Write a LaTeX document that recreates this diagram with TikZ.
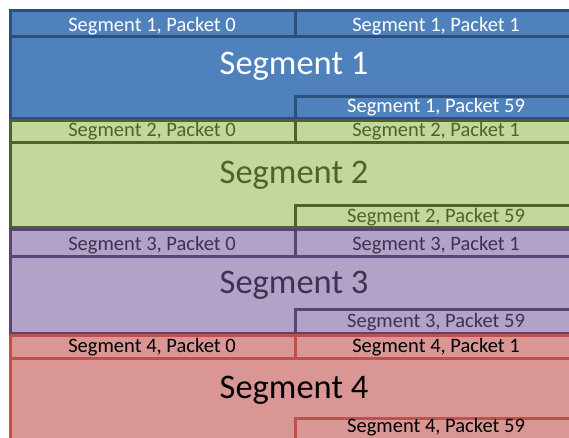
\documentclass[tikz,border=0pt]{standalone}
\usepackage{fontspec}
\setmainfont{Carlito}
\definecolor{segAfill}{RGB}{79,129,189}
\definecolor{segAdraw}{RGB}{44,80,125}
\definecolor{segAtext}{RGB}{255,255,255}
\definecolor{segBfill}{RGB}{195,214,155}
\definecolor{segBdraw}{RGB}{79,98,40}
\definecolor{segBtext}{RGB}{79,98,40}
\definecolor{segCfill}{RGB}{178,162,199}
\definecolor{segCdraw}{RGB}{88,68,120}
\definecolor{segCtext}{RGB}{64,49,82}
\definecolor{segDfill}{RGB}{217,150,148}
\definecolor{segDdraw}{RGB}{192,80,77}
\definecolor{segDtext}{RGB}{0,0,0}
\tikzset{
  pktlabel/.style={font=\fontsize{20.5}{22}\selectfont,anchor=base},
  seglabel/.style={font=\fontsize{34.5}{38}\selectfont,anchor=base},
}
\begin{document}
\begin{tikzpicture}[x=1pt,y=-1pt,line width=3pt]
    \useasboundingbox (0,0) rectangle (569,438);
    \clip (0,0) rectangle (569,438);
    \foreach \i/\top/\hdr/\pk/\bot/\c/\bh/\bs/\bp in {1/11/37/97/119/A/31.5/75/113,2/121/143/205/227/B/137/183/222,3/229/256/309/333/C/250/293/327,4/335/358/418/460/D/352/398/432}{
        \draw[draw=seg\c draw,fill=seg\c fill] (10,\top) rectangle (577,\bot);
        \draw[draw=seg\c draw] (10,\top) rectangle (295,\hdr);
        \draw[draw=seg\c draw] (295,\top) rectangle (577,\hdr);
        \draw[draw=seg\c draw] (295,\pk) rectangle (577,\bot);
        \node[pktlabel,text=seg\c text] (seg\i p0) at (152,\bh) {Segment \i, Packet 0};
        \node[pktlabel,text=seg\c text] (seg\i p1) at (436,\bh) {Segment \i, Packet 1};
        \node[seglabel,text=seg\c text] (seg\i) at (294,\bs) {Segment \i};
        \node[pktlabel,text=seg\c text] (seg\i p59) at (436,\bp) {Segment \i, Packet 59};
    }
\end{tikzpicture}
\end{document}
